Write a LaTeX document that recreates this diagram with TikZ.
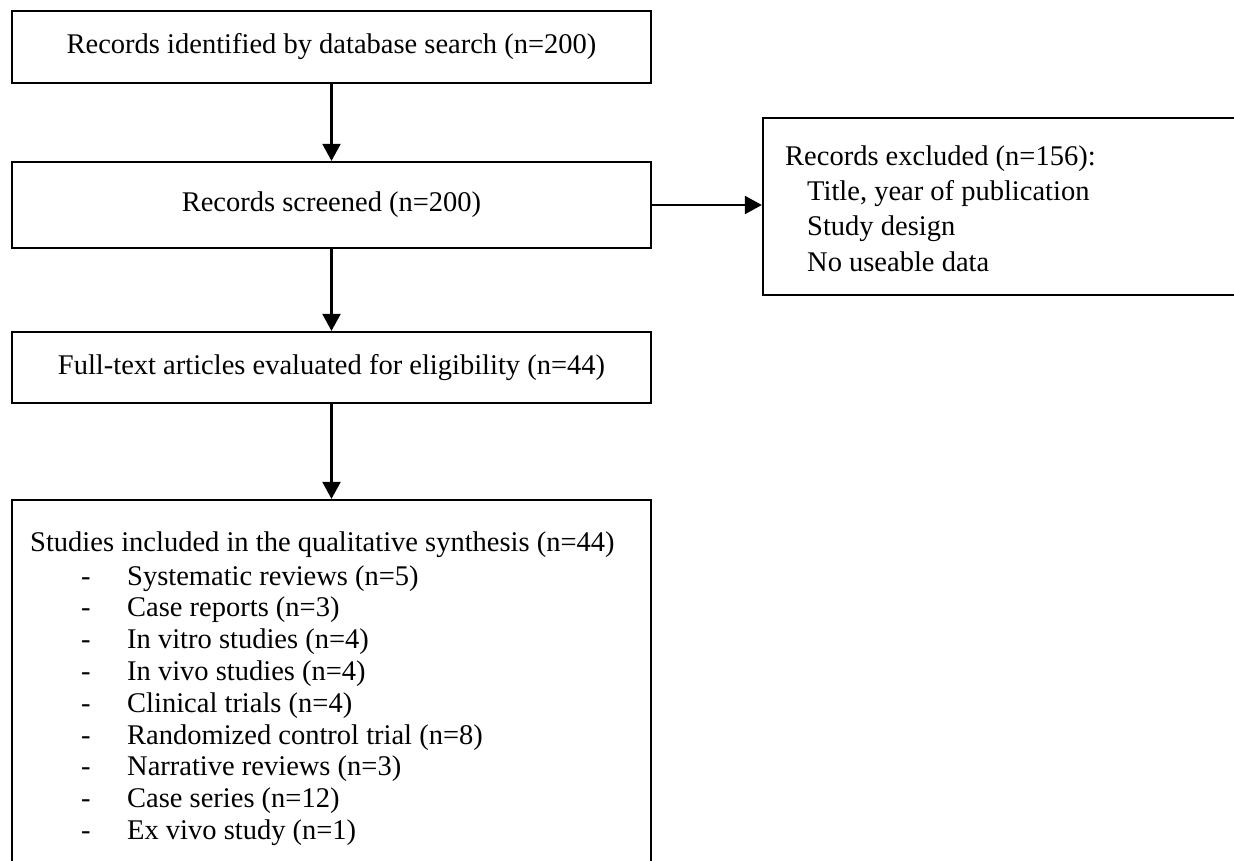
\documentclass[tikz,border=0pt]{standalone}
\usepackage{fontspec}
\setmainfont{Liberation Serif}
\usetikzlibrary{arrows.meta}
\tikzset{
  box/.style={draw=black, line width=2.3pt, minimum width=639pt, inner sep=0pt, font=\fontsize{28.5}{34}\selectfont},
  arr/.style={line width=2.3pt, -{Triangle[width=18pt,length=17pt]}},
  txt/.style={inner sep=0pt, anchor=base west, font=\fontsize{28.5}{34}\selectfont}
}
\begin{document}
\begin{tikzpicture}[x=1pt,y=-1pt]
\fill[white] (0,0) rectangle (1234,860);
\useasboundingbox (0,0) rectangle (1234,860);
\clip (0,0) rectangle (1234,860);
\node[box, minimum height=72pt] (b1) at (331.5,47) {Records identified by database search (n=200)};
\node[box, minimum height=86pt] (b2) at (331.5,205) {Records screened (n=200)};
\node[box, minimum height=71pt] (b3) at (331.5,367.5) {Full-text articles evaluated for eligibility (n=44)};
\node[box, minimum height=380pt] (b4) at (331.5,690) {};
\node[box, minimum width=487pt, minimum height=177pt] (rx) at (1006.5,206.5) {};
\draw[arr] (b1.south) -- (b2.north);
\draw[arr] (b2.south) -- (b3.north);
\draw[arr] (b3.south) -- (b4.north);
\draw[arr] (b2.east) -- (b2.east -| rx.west);
\node[txt] (e0) at (785,165) {Records excluded (n=156):};
\node[txt] (e1) at (807,200) {Title, year of publication};
\node[txt] (e2) at (807,235) {Study design};
\node[txt] (e3) at (807,271) {No useable data};
\node[txt] (s0) at (30,551) {Studies included in the qualitative synthesis (n=44)};
\foreach \t [count=\i] in {Systematic reviews (n=5), Case reports (n=3), In vitro studies (n=4), In vivo studies (n=4), Clinical trials (n=4), Randomized control trial (n=8), Narrative reviews (n=3), Case series (n=12), Ex vivo study (n=1)} {
  \node[txt] (d\i) at (81,{585+31.8*(\i-1)}) {-};
  \node[txt] (s\i) at (127,{585+31.8*(\i-1)}) {\t};
}
\end{tikzpicture}
\end{document}
